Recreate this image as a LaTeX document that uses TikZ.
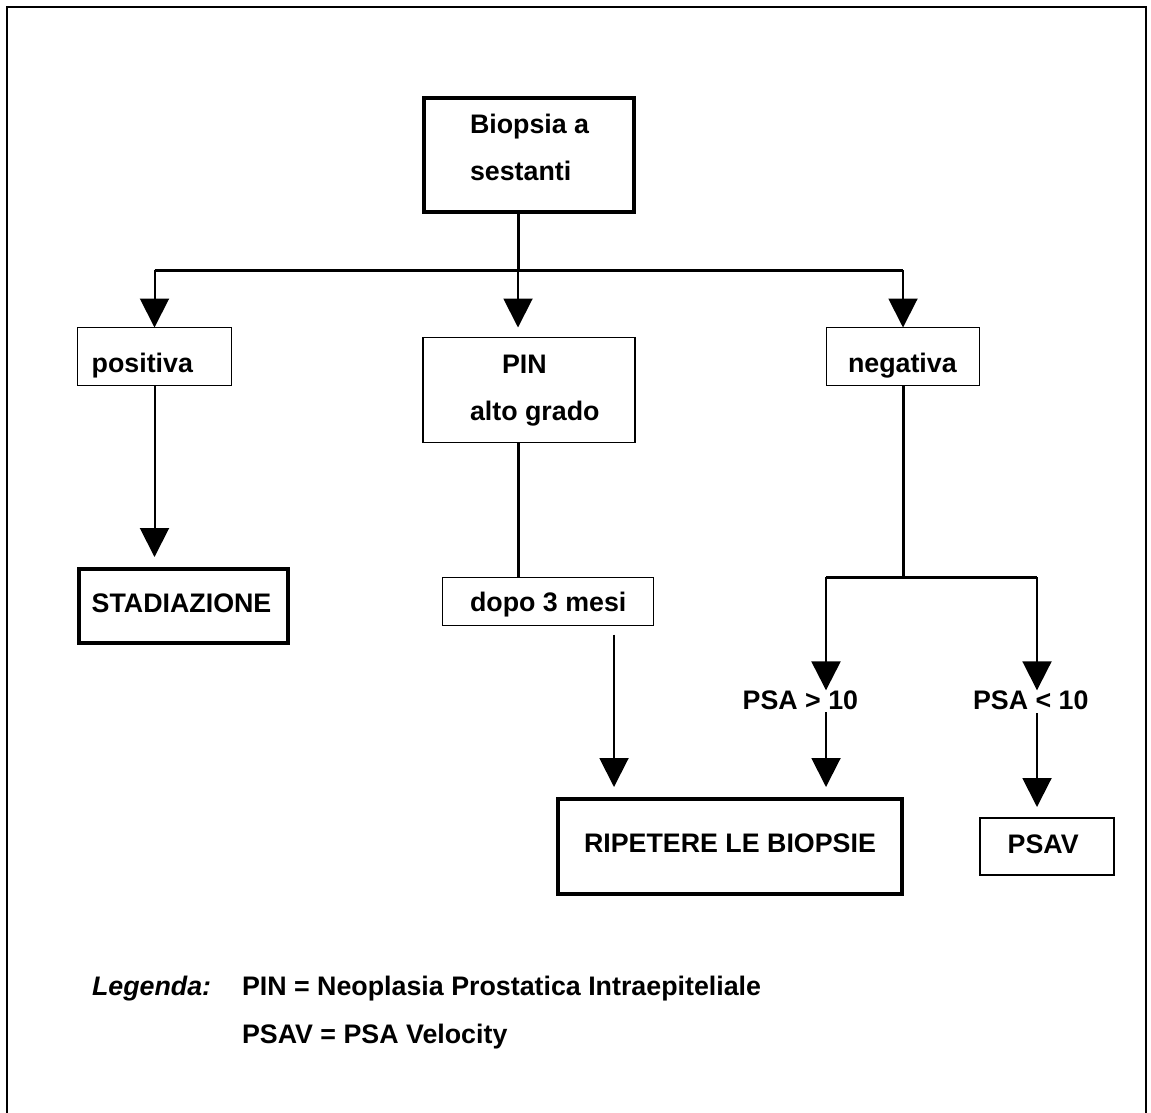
\documentclass[tikz,border=0pt]{standalone}
\usepackage{fontspec}
\setmainfont{Liberation Sans}
\usetikzlibrary{arrows.meta,calc}
\begin{document}
\begin{tikzpicture}[x=1pt,y=-1pt,
  every node/.style={inner sep=0pt, outer sep=0pt},
  txt/.style={anchor=base west, font=\fontsize{26.8}{30}\selectfont\bfseries},
  thinbox/.style={draw, line width=1.6pt, rectangle},
  thickbox/.style={draw, line width=4pt, rectangle},
  bar/.style={line width=3pt},
  arr/.style={line width=2pt, -{Triangle[width=29pt,length=29pt]}}]
\useasboundingbox (0,0) rectangle (1151,1112);
% frame
\draw[line width=2pt] (7,1114) -- (7,7) -- (1146,7) -- (1146,1114);

% boxes
\node[thickbox, minimum width=210pt, minimum height=114pt] (biopsia) at (529,155) {};
\node[thinbox, minimum width=154pt, minimum height=58pt] (positiva) at (154.5,356.5) {};
\node[thinbox, minimum width=212pt, minimum height=105pt] (pin) at (529,390) {};
\node[thinbox, minimum width=153pt, minimum height=58pt] (negativa) at (903,356.5) {};
\node[thickbox, minimum width=209pt, minimum height=74pt] (stadia) at (183.4,606) {};
\node[thinbox, minimum width=211pt, minimum height=48pt] (dopo) at (548,601.5) {};
\node[thickbox, minimum width=344pt, minimum height=95pt] (ripetere) at (730,846.5) {};
\node[thinbox, minimum width=134pt, minimum height=57pt] (psav) at (1047,846.5) {};

% texts
\node[txt] (tbio1) at (470,133) {Biopsia a};
\node[txt] (tbio2) at (470,180.7) {sestanti};
\node[txt] (tpos) at (91.7,372.7) {positiva};
\node[txt] (tpin1) at (502,373) {PIN};
\node[txt] (tpin2) at (470,420.7) {alto grado};
\node[txt] (tneg) at (848,372.3) {negativa};
\node[txt] (tstad) at (91.7,612.7) {STADIAZIONE};
\node[txt] (tdopo) at (470,611.7) {dopo 3 mesi};
\node[txt] (psagt) at (742.7,709) {PSA > 10};
\node[txt] (psalt) at (973,709) {PSA < 10};
\node[txt] (trip) at (584,852.3) {RIPETERE LE BIOPSIE};
\node[txt] (tpsav) at (1007.7,853.3) {PSAV};
\node[txt, font=\fontsize{26.8}{30}\selectfont\bfseries\itshape] (leg) at (92,995) {Legenda:};
\node[txt] (leg1) at (242,995) {PIN = Neoplasia Prostatica Intraepiteliale};
\node[txt] (leg2) at (242,1043) {PSAV = PSA Velocity};

% coordinates
\coordinate (split1) at (518,270);
\coordinate (split2) at (903,577);
\coordinate (bL) at (826,577);
\coordinate (bR) at (1037,577);
\coordinate (stadTip) at ($(stadia.north)+(0,-12)$);
\coordinate (dopoOut) at ($(dopo.south)+(66,9)$);
\coordinate (ripTip) at ($(ripetere.north)+(0,-12)$);
\coordinate (psavTip) at ($(psav.north)+(0,-11)$);
\coordinate (pinTip) at ($(pin.north)+(0,-10)$);

% top level
\draw[bar] (biopsia.south -| split1) -- (split1);
\draw[bar] (positiva.north |- split1) -- (negativa.north |- split1);
\draw[arr] (positiva.north |- split1) -- (positiva.north);
\draw[arr] (split1) -- (split1 |- pinTip);
\draw[arr] (negativa.north |- split1) -- (negativa.north);

% positiva branch
\draw[arr] (positiva.south) -- (positiva.south |- stadTip);

% PIN branch
\draw[bar] (split1 |- pin.south) -- (split1 |- dopo.north);
\draw[arr] (dopoOut) -- (dopoOut |- ripTip);

% negativa branch
\draw[bar] (negativa.south) -- (split2);
\draw[bar] (bL) -- (bR);
\draw[arr, line width=2.5pt] (bL) -- (bL |- psagt.north);
\draw[arr] (bR) -- (bR |- psalt.north);
\draw[arr] (bL |- psagt.south) ++(0,3) -- (bL |- ripTip);
\draw[arr] (bR |- psalt.south) ++(0,4) -- (bR |- psavTip);
\end{tikzpicture}
\end{document}
